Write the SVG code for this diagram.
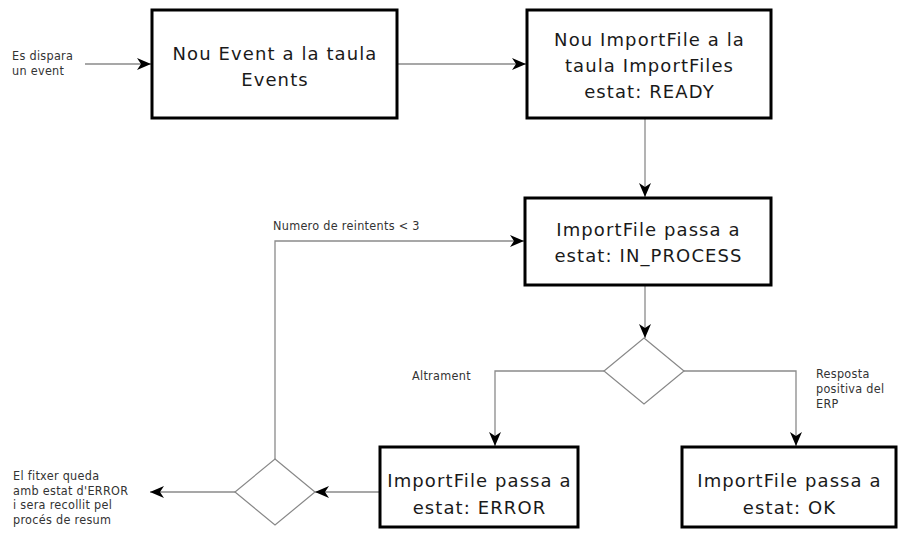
<svg xmlns="http://www.w3.org/2000/svg" width="902" height="536" viewBox="0 0 902 536">
  <style>
    .box { fill: #fff; stroke: #000; stroke-width: 3; }
    .dia { fill: #fff; stroke: #888; stroke-width: 1.2; }
    .line { fill: none; stroke: #8a8a8a; stroke-width: 1.3; }
    .t { font-family: "DejaVu Sans", sans-serif; font-size: 18px; letter-spacing: 1.1px; fill: #1a1a1a; text-anchor: middle; }
    .s { font-family: "DejaVu Sans Condensed", "Liberation Sans Narrow", "Liberation Sans", sans-serif; font-stretch: condensed; font-size: 12.5px; letter-spacing: 0.3px; fill: #333; }
  </style>
  <defs>
    <marker id="arr" viewBox="0 0 14 12" refX="14" refY="6" markerWidth="14" markerHeight="12" markerUnits="userSpaceOnUse" orient="auto">
      <path d="M0,0 L14,6 L0,12 L4,6 Z" fill="#000"/>
    </marker>
  </defs>

  <g id="connectors">
    <line class="line" x1="85" y1="64" x2="151" y2="64" marker-end="url(#arr)"/>
    <line class="line" x1="398" y1="64" x2="526" y2="64" marker-end="url(#arr)"/>
    <line class="line" x1="645" y1="119" x2="645" y2="197" marker-end="url(#arr)"/>
    <line class="line" x1="645" y1="286" x2="645" y2="338" marker-end="url(#arr)"/>
    <polyline class="line" points="604,371 495,371 495,446" marker-end="url(#arr)"/>
    <polyline class="line" points="684,371 796,371 796,446" marker-end="url(#arr)"/>
    <line class="line" x1="379" y1="492" x2="315" y2="492" marker-end="url(#arr)"/>
    <line class="line" x1="235" y1="492" x2="150" y2="492" marker-end="url(#arr)"/>
    <polyline class="line" points="275,459 275,241 524,241" marker-end="url(#arr)"/>
  </g>

  <g id="start-label">
    <text class="s" x="12" y="60">Es dispara</text>
    <text class="s" x="12" y="74.5">un event</text>
  </g>

  <g id="new-event">
    <rect class="box" x="152" y="10" width="245" height="108"/>
    <text class="t" x="275" y="60">Nou Event a la taula</text>
    <text class="t" x="275" y="86">Events</text>
  </g>

  <g id="new-importfile">
    <rect class="box" x="527" y="10" width="244" height="108"/>
    <text class="t" x="649.5" y="46">Nou ImportFile a la</text>
    <text class="t" x="649.5" y="72">taula ImportFiles</text>
    <text class="t" x="649.5" y="98">estat: READY</text>
  </g>

  <g id="in-process">
    <rect class="box" x="525" y="198" width="246" height="87"/>
    <text class="t" x="648.5" y="236">ImportFile passa a</text>
    <text class="t" x="648.5" y="262">estat: IN_PROCESS</text>
  </g>

  <g id="erp-decision">
    <polygon class="dia" points="644,338 684,371 644,404 604,371"/>
  </g>

  <g id="error-state">
    <rect class="box" x="380" y="447" width="198" height="80"/>
    <text class="t" x="479.5" y="487">ImportFile passa a</text>
    <text class="t" x="479.5" y="514">estat: ERROR</text>
  </g>

  <g id="ok-state">
    <rect class="box" x="682" y="447" width="214" height="80"/>
    <text class="t" x="789.5" y="487">ImportFile passa a</text>
    <text class="t" x="789.5" y="514">estat: OK</text>
  </g>

  <g id="retry-decision">
    <polygon class="dia" points="275,459 315,492 275,525 235,492"/>
  </g>

  <g id="labels">
    <text class="s" x="273" y="230">Numero de reintents &lt; 3</text>
    <text class="s" x="412" y="380">Altrament</text>
    <text class="s" x="816" y="378">Resposta</text>
    <text class="s" x="816" y="393">positiva del</text>
    <text class="s" x="816" y="408">ERP</text>
    <text class="s" x="13" y="480">El fitxer queda</text>
    <text class="s" x="13" y="494.7">amb estat d'ERROR</text>
    <text class="s" x="13" y="509.4">i sera recollit pel</text>
    <text class="s" x="13" y="524.1">procés de resum</text>
  </g>
</svg>
